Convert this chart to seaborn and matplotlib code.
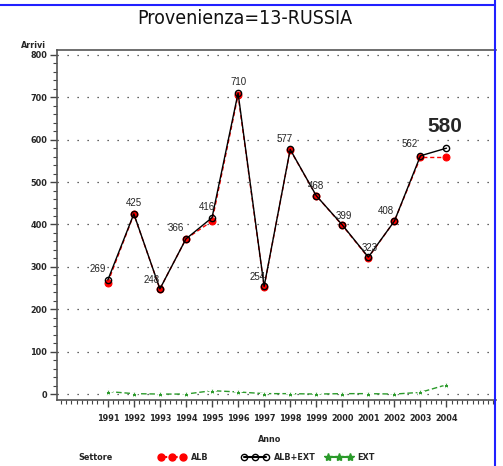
import matplotlib
matplotlib.use("Agg")
import matplotlib.pyplot as plt
from matplotlib.lines import Line2D
from matplotlib.ticker import MultipleLocator
import seaborn as sns
import pandas as pd

sns.set_style("white")
plt.rcParams['font.family'] = ['Liberation Sans', 'DejaVu Sans']

# dati
anni = [1991, 1992, 1993, 1994, 1995, 1996, 1997, 1998, 1999, 2000, 2001, 2002, 2003, 2004]
alb = [263, 424, 248, 366, 408, 705, 253, 576, 468, 398, 322, 408, 558, 558]
alb_ext = [269, 425, 248, 366, 416, 710, 254, 577, 468, 399, 323, 408, 562, 580]
ext = [6, 1, 0, 0, 8, 5, 1, 1, 0, 1, 1, 0, 4, 22]
serie = ['ALB', 'ALB+EXT', 'EXT']

df = pd.DataFrame({'Anno': anni, 'ALB': alb, 'ALB+EXT': alb_ext, 'EXT': ext})

# spostamento etichette (punti)
offs = [(-7, 4), (0, 4), (-6, 3), (-7, 4), (-4, 4), (0, 4), (-5, 3), (-4, 4),
        (0, 3), (1, 3), (1, 3), (-6, 4), (-8, 5)]

fig = plt.figure(figsize=(5.03, 4.66), dpi=100)
ax = fig.add_axes([57/503, 1-400/466, 439/503, 350.5/466])

sns.lineplot(data=df, x='Anno', y='ALB', ax=ax, color='red', linestyle=(0, (3, 2)),
             linewidth=1, marker='o', markersize=5, mfc='red', mec='red', zorder=2)
sns.lineplot(data=df, x='Anno', y='ALB+EXT', ax=ax, color='black', linewidth=1,
             marker='o', markersize=4.5, mfc='none', mec='black', mew=1, zorder=3)
sns.lineplot(data=df, x='Anno', y='EXT', ax=ax, color='#2a9a2a', linestyle=(0, (4, 2)),
             linewidth=1, marker='*', markersize=6, zorder=3)

for a, v, o in zip(anni[:-1], alb_ext[:-1], offs):
    ax.annotate(str(v), (a, v), xytext=o, textcoords='offset points',
                ha='center', va='bottom', fontsize=7)
ax.annotate(str(alb_ext[-1]), (anni[-1], alb_ext[-1]), xytext=(-1, 9),
            textcoords='offset points', ha='center', va='bottom',
            fontsize=15, fontweight='bold')

ax.set_xlim(1989.05, 2005.9)
ax.set_ylim(-14, 812.7)
ax.set_xticks(anni)
ax.set_yticks(range(0, 801, 100))
ax.xaxis.set_minor_locator(MultipleLocator(0.2))
ax.yaxis.set_minor_locator(MultipleLocator(20))
for y in range(0, 801, 100):
    ax.axhline(y, color='#333333', linestyle=(0, (1, 7)), linewidth=0.9, zorder=1)

tf = dict(family='DejaVu Sans', fontstretch='condensed', fontweight='bold', fontsize=6.5)
ax.set_xticklabels([str(a) for a in anni], **tf)
ax.set_yticklabels([str(y) for y in range(0, 801, 100)], **tf)
ax.tick_params(which='major', direction='out', length=5, width=1, color='#444444', pad=2)
ax.tick_params(which='minor', direction='out', length=3, width=0.8, color='#444444')
ax.tick_params(axis='x', which='major', pad=5)
ax.tick_params(left=True, bottom=True, which='both')
ax.spines['right'].set_visible(False)
for s in ['left', 'top', 'bottom']:
    ax.spines[s].set_color('#555555')
    ax.spines[s].set_linewidth(1.2)

ax.set_xlabel('')
ax.set_ylabel('')
fig.text(33/503, 1-46/466, 'Arrivi', ha='center', va='center', **tf)
fig.text(270/503, 1-439/466, 'Anno', ha='center', va='center', **tf)

fig.text(245/503, 1-19/466, 'Provenienza=13-RUSSIA', ha='center', va='center',
         family='DejaVu Sans', fontstretch='condensed', fontsize=14, color='#111111')

# legenda
fig.text(78/503, 1-458/466, 'Settore', ha='left', va='center', **tf)
handles = [
    Line2D([], [], color='red', linestyle=(0, (3, 2)), marker='o', markersize=5, mfc='red', mec='red'),
    Line2D([], [], color='black', marker='o', markersize=4.5, mfc='none', mec='black'),
    Line2D([], [], color='#2a9a2a', linestyle=(0, (4, 2)), marker='*', markersize=6),
]
lp = {'family': 'DejaVu Sans', 'stretch': 'condensed', 'weight': 'bold', 'size': 6.5}
for h, nome, x0 in zip(handles, serie, [150, 233, 317]):
    fig.legend([h], [nome], loc='center left', bbox_to_anchor=(x0/503, 1-458/466),
               frameon=False, numpoints=3, handlelength=3.0, handletextpad=0.6,
               prop=lp)

# bordo blu
fig.add_artist(Line2D([0, 495/503], [1-5/466, 1-5/466], color='#2020ff', linewidth=1.5))
fig.add_artist(Line2D([495/503, 495/503], [0, 1], color='#2020ff', linewidth=1.5))

fig.savefig('out.png', dpi=100)
